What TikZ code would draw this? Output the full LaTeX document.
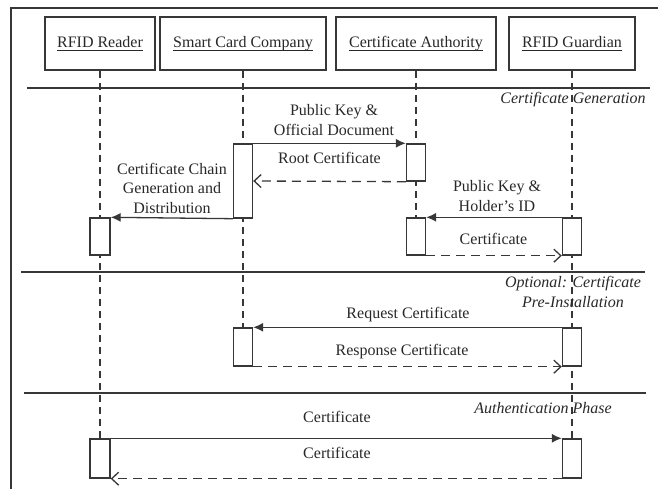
\documentclass[tikz,border=0pt]{standalone}
\usepackage{fontspec}
\setmainfont{Liberation Serif}
\usetikzlibrary{arrows.meta,backgrounds}
\definecolor{ink}{RGB}{40,40,40}
\definecolor{rule}{RGB}{55,55,55}
% underlined participant name, with a rule heavy enough to read
\newcommand\hdtext[1]{\setbox0=\hbox{#1}\rlap{\rule[-3.6pt]{\wd0}{0.9pt}}\box0}
\begin{document}
\begin{tikzpicture}[x=1pt,y=-1pt,
  font=\fontsize{16}{19.5}\selectfont, text=ink,
  head/.style={draw=rule, line width=1.5pt, minimum height=53pt, inner sep=0pt, fill=white},
  act/.style={draw=rule, line width=1.4pt, fill=white, minimum width=19pt, inner sep=0pt},
  life/.style={draw=rule, line width=1.4pt, dash pattern=on 7pt off 5pt},
  call/.style={draw=rule, line width=1.3pt, -{Latex[length=10pt,width=9pt]}},
  reply/.style={draw=rule, line width=1.3pt, dash pattern=on 9pt off 6pt, -{Straight Barb[length=7pt,width=13pt]}},
  sep/.style={draw=rule, line width=1.5pt},
  lbl/.style={align=center, inner sep=0pt},
  phase/.style={lbl, font=\fontsize{16}{19.5}\selectfont\itshape}]

\useasboundingbox (0,0) rectangle (658,489);

% frame
\draw[rule, line width=1.1pt] (11,489) -- (11,8) -- (658,8);

% phase separators
\draw[sep] (27,88) -- (650,88);
\draw[sep] (21,272) -- (645,272);
\draw[sep] (24,393) -- (646,393);

% participants
\node[head, minimum width=110pt] (hr) at (100,43.5) {\hdtext{RFID Reader}};
\node[head, minimum width=166pt] (hs) at (243,43.5) {\hdtext{Smart Card Company}};
\node[head, minimum width=160pt] (hc) at (416,43.5) {\hdtext{Certificate Authority}};
\node[head, minimum width=126pt] (hg) at (572,43.5) {\hdtext{RFID Guardian}};

% activation bars
\node[act, minimum height=74pt] (s1) at (243,181) {};
\node[act, minimum height=37pt] (c1) at (416,162.5) {};
\node[act, minimum height=37pt, minimum width=20pt] (r1) at (100,236.5) {};
\node[act, minimum height=37pt] (c2) at (416,236.5) {};
\node[act, minimum height=37pt] (g1) at (572,236.5) {};
\node[act, minimum height=38pt] (s2) at (243,347) {};
\node[act, minimum height=38pt] (g2) at (572,347) {};
\node[act, minimum height=39pt, minimum width=20pt] (r2) at (100,458.5) {};
\node[act, minimum height=39pt] (g3) at (572,458.5) {};

% lifelines
\begin{pgfonlayer}{background}
\draw[life] (hr.south) -- (r2.north);
\draw[life] (hs.south) -- (s2.north);
\draw[life] (hc.south) -- (c2.north);
\draw[life] (hg.south) -- (g3.north);
\end{pgfonlayer}

% messages
\draw[call]  (s1.north east) -- (c1.north west);
\draw[reply] (c1.south west) -- (s1.east);
\draw[call]  (s1.south west) -- (r1.north east);
\draw[call]  (g1.north west) -- (c2.north east);
\draw[reply] (c2.south east) -- (g1.south west);
\draw[call]  (g2.north west) -- (s2.north east);
\draw[reply] (s2.south east) -- (g2.south west);
\draw[call]  (r2.north east) -- (g3.north west);
\draw[reply] (g3.south west) -- (r2.south east);

% message labels
\node[lbl] (m1) at (334,120) {Public Key \&\\Official Document};
\node[lbl, anchor=base] (m2) at (329.5,164) {Root Certificate};
\node[lbl] (m3) at (172,188) {Certificate Chain\\Generation and\\Distribution};
\node[lbl] (m4) at (497,196) {Public Key \&\\Holder’s ID};
\node[lbl, anchor=base] (m5) at (493.5,244) {Certificate};
\node[lbl, anchor=base] (m6) at (408,318) {Request Certificate};
\node[lbl, anchor=base] (m7) at (402,355) {Response Certificate};
\node[lbl, anchor=base] (m8) at (337,422) {Certificate};
\node[lbl, anchor=base] (m9) at (337,458) {Certificate};

% phase titles
\node[phase, anchor=base] (p1) at (573,104) {Certificate Generation};
\node[phase] (p2) at (573,292) {Optional: Certificate\\Pre-Installation};
\node[phase, anchor=base] (p3) at (543,413) {Authentication Phase};

\end{tikzpicture}
\end{document}
